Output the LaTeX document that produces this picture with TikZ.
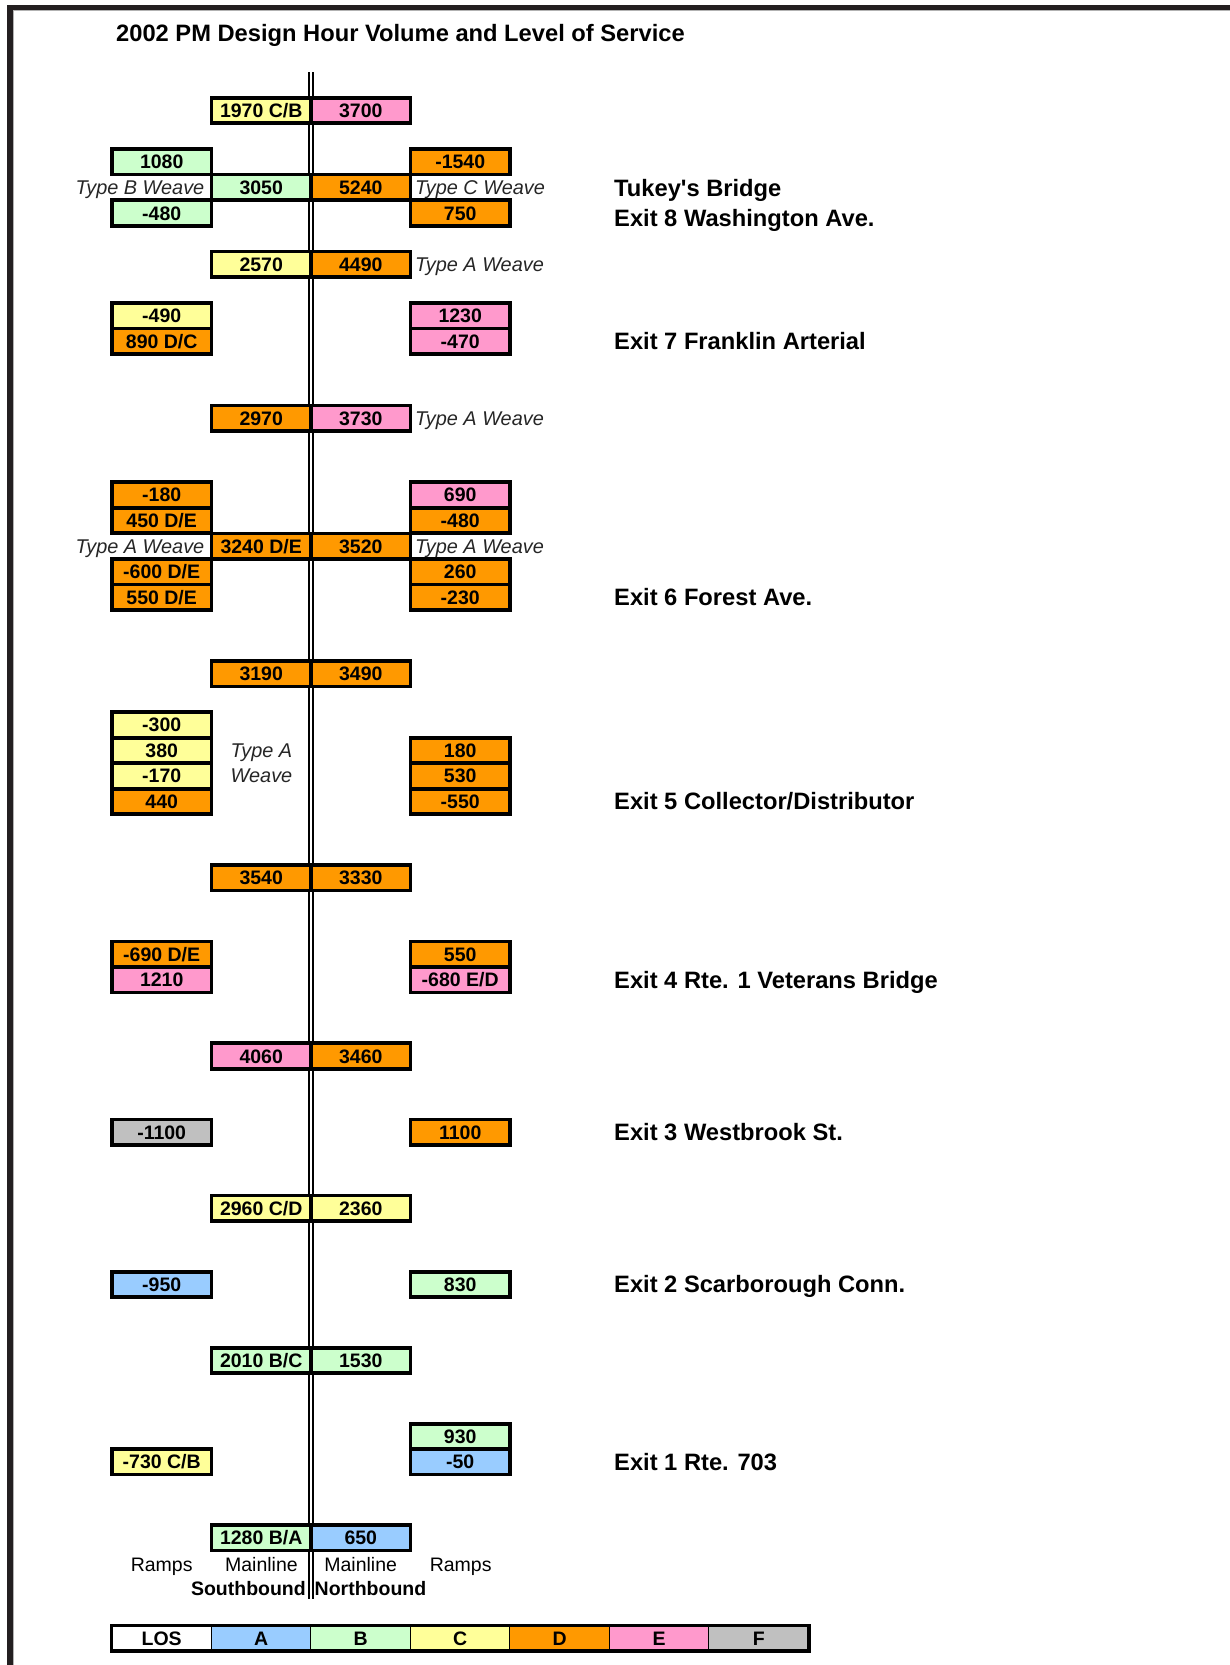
\documentclass[tikz,border=0pt]{standalone}
\usepackage{fontspec}
\setmainfont{Liberation Sans}
\definecolor{losA}{HTML}{99CCFF}
\definecolor{losB}{HTML}{CCFFCC}
\definecolor{losC}{HTML}{FFFF99}
\definecolor{losD}{HTML}{FF9900}
\definecolor{losE}{HTML}{FF99CC}
\definecolor{losF}{HTML}{C0C0C0}
\definecolor{framec}{HTML}{231F20}
\newcommand\myrowy[1]{110.445+25.49*#1+2.8*sin(180*#1/56)}
\newcommand\boxfont{\bfseries\fontsize{19.5}{21}\selectfont}
\newcommand\bigfont{\bfseries\fontsize{23.7}{25}\selectfont}
\begin{document}
\begin{tikzpicture}[x=1pt,y=-1pt,
  box/.style={draw=black, line width=3.6pt, minimum width=99.5pt, minimum height=25.49pt,
    inner sep=0pt, font=\boxfont, text height=14pt, text depth=0pt},
  lab/.style={font=\itshape\fontsize{19.9}{21}\selectfont, text=black!85, inner sep=0pt,
    text height=14pt, text depth=0pt},
  exitlab/.style={font=\bigfont, anchor=west, inner sep=0pt, text height=17pt, text depth=0pt},
  foot/.style={font=\fontsize{19.5}{21}\selectfont, inner sep=0pt, text height=14pt, text depth=0pt},
  footb/.style={font=\boxfont, inner sep=0pt, text height=14pt, text depth=0pt},
  legcell/.style={draw=black, line width=1pt, minimum width=99.5pt, minimum height=24.5pt,
    inner sep=0pt, font=\boxfont, text height=14pt, text depth=0pt}
]
\useasboundingbox (0,0) rectangle (1230,1665);
% frame
\draw[framec, line width=5.3pt, line join=miter] (10,1670) -- (10,7.4) -- (1235,7.4);
\draw[black!30, line width=0.8pt] (13.1,10.5) -- (1235,10.5);
\draw[black!30, line width=0.8pt] (13.1,10.5) -- (13.1,1670);
% title
\node[exitlab] (title) at (116,33) {2002 PM Design Hour Volume and Level of Service};
% centre double line
\coordinate (ctop) at (311,72.3);
\coordinate (cbot) at (311,1599);
\draw[line width=1.7pt] ([xshift=-1.75pt]ctop) -- ([xshift=-1.75pt]cbot);
\draw[line width=1.7pt] ([xshift=1.75pt]ctop) -- ([xshift=1.75pt]cbot);
% row 0
\node[box,fill=losC] (m0l) at (261.2,{\myrowy{0}}) {1970 C/B};
\node[box,fill=losE] (m0r) at (360.8,{\myrowy{0}}) {3700};
% Tukey / Exit 8
\node[box,fill=losB] (r2l) at (161.7,{\myrowy{2}}) {1080};
\node[box,fill=losD] (r2r) at (460.2,{\myrowy{2}}) {-1540};
\node[box,fill=losB] (m3l) at (261.2,{\myrowy{3}}) {3050};
\node[box,fill=losD] (m3r) at (360.8,{\myrowy{3}}) {5240};
\node[box,fill=losB] (r4l) at (161.7,{\myrowy{4}}) {-480};
\node[box,fill=losD] (r4r) at (460.2,{\myrowy{4}}) {750};
\node[lab,anchor=east] (w3l) at (204.5,{\myrowy{3}}) {Type B Weave};
\node[lab,anchor=west] (w3r) at (415,{\myrowy{3}}) {Type C Weave};
% row 6
\node[box,fill=losC] (m6l) at (261.2,{\myrowy{6}}) {2570};
\node[box,fill=losD] (m6r) at (360.8,{\myrowy{6}}) {4490};
\node[lab,anchor=west] (w6r) at (415,{\myrowy{6}}) {Type A Weave};
% Exit 7
\node[box,fill=losC] (r8l) at (161.7,{\myrowy{8}}) {-490};
\node[box,fill=losD] (r9l) at (161.7,{\myrowy{9}}) {890 D/C};
\node[box,fill=losE] (r8r) at (460.2,{\myrowy{8}}) {1230};
\node[box,fill=losE] (r9r) at (460.2,{\myrowy{9}}) {-470};
% row 12
\node[box,fill=losD] (m12l) at (261.2,{\myrowy{12}}) {2970};
\node[box,fill=losE] (m12r) at (360.8,{\myrowy{12}}) {3730};
\node[lab,anchor=west] (w12r) at (415,{\myrowy{12}}) {Type A Weave};
% Exit 6
\node[box,fill=losD] (r15l) at (161.7,{\myrowy{15}}) {-180};
\node[box,fill=losD] (r16l) at (161.7,{\myrowy{16}}) {450 D/E};
\node[box,fill=losD] (m17l) at (261.2,{\myrowy{17}}) {3240 D/E};
\node[box,fill=losD] (m17r) at (360.8,{\myrowy{17}}) {3520};
\node[box,fill=losD] (r18l) at (161.7,{\myrowy{18}}) {-600 D/E};
\node[box,fill=losD] (r19l) at (161.7,{\myrowy{19}}) {550 D/E};
\node[box,fill=losE] (r15r) at (460.2,{\myrowy{15}}) {690};
\node[box,fill=losD] (r16r) at (460.2,{\myrowy{16}}) {-480};
\node[box,fill=losD] (r18r) at (460.2,{\myrowy{18}}) {260};
\node[box,fill=losD] (r19r) at (460.2,{\myrowy{19}}) {-230};
\node[lab,anchor=east] (w17l) at (204.5,{\myrowy{17}}) {Type A Weave};
\node[lab,anchor=west] (w17r) at (415,{\myrowy{17}}) {Type A Weave};
% row 22
\node[box,fill=losD] (m22l) at (261.2,{\myrowy{22}}) {3190};
\node[box,fill=losD] (m22r) at (360.8,{\myrowy{22}}) {3490};
% Exit 5
\node[box,fill=losC] (r24l) at (161.7,{\myrowy{24}}) {-300};
\node[box,fill=losC] (r25l) at (161.7,{\myrowy{25}}) {380};
\node[box,fill=losC] (r26l) at (161.7,{\myrowy{26}}) {-170};
\node[box,fill=losD] (r27l) at (161.7,{\myrowy{27}}) {440};
\node[box,fill=losD] (r25r) at (460.2,{\myrowy{25}}) {180};
\node[box,fill=losD] (r26r) at (460.2,{\myrowy{26}}) {530};
\node[box,fill=losD] (r27r) at (460.2,{\myrowy{27}}) {-550};
\node[lab,anchor=west] (w25) at (230.5,{\myrowy{25}}) {Type A};
\node[lab,anchor=west] (w26) at (230.5,{\myrowy{26}}) {Weave};
% row 30
\node[box,fill=losD] (m30l) at (261.2,{\myrowy{30}}) {3540};
\node[box,fill=losD] (m30r) at (360.8,{\myrowy{30}}) {3330};
% Exit 4
\node[box,fill=losD] (r33l) at (161.7,{\myrowy{33}}) {-690 D/E};
\node[box,fill=losE] (r34l) at (161.7,{\myrowy{34}}) {1210};
\node[box,fill=losD] (r33r) at (460.2,{\myrowy{33}}) {550};
\node[box,fill=losE] (r34r) at (460.2,{\myrowy{34}}) {-680 E/D};
% row 37
\node[box,fill=losE] (m37l) at (261.2,{\myrowy{37}}) {4060};
\node[box,fill=losD] (m37r) at (360.8,{\myrowy{37}}) {3460};
% Exit 3
\node[box,fill=losF] (r40l) at (161.7,{\myrowy{40}}) {-1100};
\node[box,fill=losD] (r40r) at (460.2,{\myrowy{40}}) {1100};
% row 43
\node[box,fill=losC] (m43l) at (261.2,{\myrowy{43}}) {2960 C/D};
\node[box,fill=losC] (m43r) at (360.8,{\myrowy{43}}) {2360};
% Exit 2
\node[box,fill=losA] (r46l) at (161.7,{\myrowy{46}}) {-950};
\node[box,fill=losB] (r46r) at (460.2,{\myrowy{46}}) {830};
% row 49
\node[box,fill=losB] (m49l) at (261.2,{\myrowy{49}}) {2010 B/C};
\node[box,fill=losB] (m49r) at (360.8,{\myrowy{49}}) {1530};
% Exit 1
\node[box,fill=losB] (r52r) at (460.2,{\myrowy{52}}) {930};
\node[box,fill=losA] (r53r) at (460.2,{\myrowy{53}}) {-50};
\node[box,fill=losC] (r53l) at (161.7,{\myrowy{53}}) {-730 C/B};
% row 56
\node[box,fill=losB] (m56l) at (261.2,{\myrowy{56}}) {1280 B/A};
\node[box,fill=losA] (m56r) at (360.8,{\myrowy{56}}) {650};
% exit labels
\node[exitlab] (x8a) at (614,187.5) {Tukey\textquotesingle s Bridge};
\node[exitlab] (x8b) at (614,218) {Exit 8 Washington Ave.};
\node[exitlab] (x7) at (614,{\myrowy{9}}) {Exit 7 Franklin Arterial};
\node[exitlab] (x6) at (614,{\myrowy{19}}) {Exit 6 Forest Ave.};
\node[exitlab] (x5) at (614,{\myrowy{27}}) {Exit 5 Collector/Distributor};
\node[exitlab] (x4) at (614,{\myrowy{34}}) {Exit 4 Rte. 1 Veterans Bridge};
\node[exitlab] (x3) at (614,{\myrowy{40}}) {Exit 3 Westbrook St.};
\node[exitlab] (x2) at (614,{\myrowy{46}}) {Exit 2 Scarborough Conn.};
\node[exitlab] (x1) at (614,{\myrowy{53}}) {Exit 1 Rte. 703};
% footer
\node[foot] (f1) at (161.7,1564.7) {Ramps};
\node[foot] (f2) at (261.4,1564.7) {Mainline};
\node[foot] (f3) at (360.7,1564.7) {Mainline};
\node[foot] (f4) at (460.7,1564.7) {Ramps};
\node[footb,anchor=east] (sb) at (306,1588) {Southbound};
\node[footb,anchor=west] (nb) at (314.5,1588) {Northbound};
% legend
\node[legcell,fill=white] (lg0) at (161.7,1638.2) {LOS};
\node[legcell,fill=losA] (lg1) at (261.2,1638.2) {A};
\node[legcell,fill=losB] (lg2) at (360.7,1638.2) {B};
\node[legcell,fill=losC] (lg3) at (460.2,1638.2) {C};
\node[legcell,fill=losD] (lg4) at (559.7,1638.2) {D};
\node[legcell,fill=losE] (lg5) at (659.2,1638.2) {E};
\node[legcell,fill=losF] (lg6) at (758.7,1638.2) {F};
\draw[line width=3.8pt] (lg0.north west) rectangle (lg6.south east);
\end{tikzpicture}
\end{document}
